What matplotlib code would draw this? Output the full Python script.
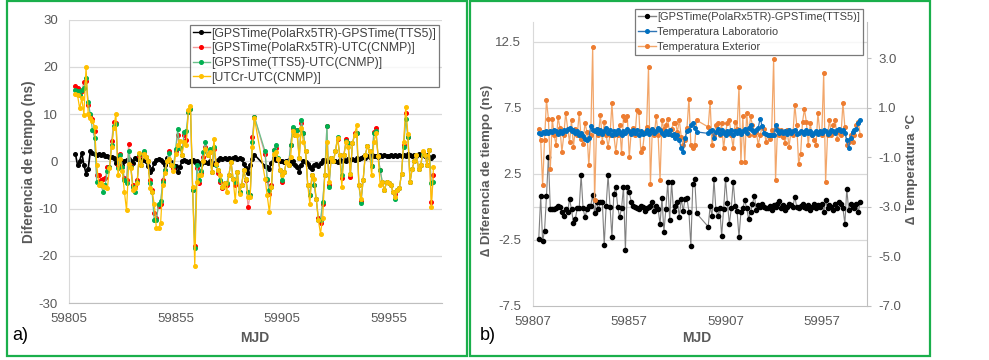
import matplotlib
matplotlib.use("Agg")
import matplotlib.pyplot as plt
from matplotlib.lines import Line2D
from matplotlib.patches import Rectangle

plt.rcParams['font.family'] = ['Liberation Sans', 'DejaVu Sans']
plt.rcParams['axes.unicode_minus'] = False

# ---------------- Panel a data ----------------
mjd_a = list(range(59808, 59893)) + list(range(59897, 59977))

black_a = [1.6, -0.8, 0.0, 1.8, -0.8, -2.6, -1.6, 2.1, 1.7, 1.5,
           1.4, 1.6, 1.4, 1.5, 1.2, 1.1, 0.9, 1.0, 0.7, -0.4,
           0.7, 0.3, -0.8, 0.0, 0.3, 0.5, 0.0, -0.3, 0.7, 0.4,
           0.5, 0.2, 0.3, 0.0, -1.0, -2.3, -1.6, -0.4, 0.3, 0.5,
           0.2, -0.2, -0.8, 0.7, 0.3, -0.2, -0.8, -1.0, -2.3, -1.2,
           0.0, 0.2, 0.0, -0.2, 0.0, 0.2, -0.1, 0.0, -0.3, -0.5,
           0.0, -0.2, -0.4, 0.0, -0.3, -0.5, -0.2, 0.3, 0.6, 0.4,
           0.8, 0.5, 0.7, 0.3, 0.6, 0.9, 0.4, 0.8, 0.5, -0.6,
           -1.5, -2.5, -0.8, 0.5, 1.4,
           -1.0, -1.3, -1.6, -0.3, 0.7, 0.3, 0.5, 0.0, 0.1, -0.2,
           0.0, 0.2, -0.4, 0.0, -0.8, -1.2, -2.3, -0.8, 0.0, -0.2,
           -0.6, -1.2, -1.6, -0.8, -0.5, -1.0, -0.4, 0.2, 0.0, 0.3,
           0.1, 0.2, 0.0, 0.1, -0.1, 0.2, 0.0, 0.3, 0.1, 0.4,
           0.2, 0.5, 0.3, 0.6, 0.4, 0.8, 1.0, 0.8, 1.1, 1.0,
           1.3, 1.1, 1.2, 1.0, 1.3, 1.2, 1.4, 1.1, 1.2, 1.3,
           1.1, 1.4, 1.2, 1.3, 1.1, 1.4, 1.2, 1.5, 1.3, 1.1,
           1.4, 1.2, 1.6, 1.3, 1.5, 1.2, 1.4, 1.0, 0.8, 1.1]

red_a = [16.0, 15.5, 14.5, 14.8, 16.8, 17.0, 12.0, 9.5, 9.0, 6.5,
         -3.0, -3.0, -4.0, -3.8, -3.5, -1.2, -1.2, 4.3, 8.4, 8.2,
         -1.0, 1.5, -1.2, -3.5, -4.0, 3.7, -1.0, -5.0, -5.5, -4.0,
         1.2, -0.8, 1.8, 1.0, 0.0, -4.0, -6.0, -11.0, -12.0, -9.5,
         -9.0, -4.0, -1.8, 0.0, 2.1, -0.8, -1.5, 2.1, 5.6, 2.8,
         1.4, 5.5, 4.5, 10.5, 11.0, -6.0, -18.0, -1.5, -4.7, -2.5,
         1.0, 3.0, 1.4, 2.0, -2.3, 2.5, -0.5, -2.5, -4.4, -5.6,
         -4.7, -5.0, -3.0, -0.1, -3.7, -5.0, -2.3, -6.5, -5.0, -1.9,
         -4.0, -9.7, -7.2, 5.2, 9.3,
         1.5, -4.0, -7.0, -5.0, 2.4, 2.8, 0.5, -1.9, -4.4, -2.3,
         -0.1, -0.8, 3.5, 7.0, 5.6, 6.6, 0.7, 8.2, 5.9, 2.1,
         -5.0, -7.2, -3.0, -5.0, -7.9, -12.0, -13.0, -9.0, -3.0, 7.5,
         -5.0, 0.7, 0.0, 2.1, 4.8, 1.4, -3.5, 1.4, 4.8, 3.8,
         -3.3, 3.8, 6.0, 6.0, -5.0, -8.5, -4.0, 1.4, 3.2, 2.1,
         -1.1, 6.3, 7.0, 1.1, -1.9, -4.4, -6.1, -4.4, -4.7, -5.0,
         -6.5, -7.0, -6.1, -5.7, -2.6, 3.5, 10.2, 5.2, -4.4, -1.6,
         0.0, 1.4, -1.6, -0.8, 2.0, 1.4, -0.8, 2.4, -8.6, -3.0]

green_a = [15.0, 14.9, 14.0, 15.0, 15.5, 17.7, 12.5, 10.0, 6.6, 5.0,
           -4.4, -4.5, -5.0, -6.5, -5.0, -2.0, -1.2, 3.5, 7.5, 8.0,
           -1.5, 1.3, -1.2, -4.0, -4.5, 2.1, -1.3, -5.5, -6.5, -4.3,
           1.5, -0.8, 2.1, 1.0, 0.0, -4.5, -6.5, -12.5, -12.5, -9.0,
           -8.5, -4.3, -1.8, 0.0, 1.8, -0.8, -1.0, 2.5, 6.8, 2.8,
           1.4, 6.2, 6.5, 10.5, 11.1, -6.1, -18.3, -0.8, -4.0, -2.0,
           2.0, 4.0, 1.4, 2.5, -2.3, 3.0, -0.8, -1.9, -4.0, -5.4,
           -4.7, -4.5, -3.0, -0.1, -3.7, -4.4, -2.3, -6.5, -5.0, -1.9,
           -3.7, -6.5, -7.2, 4.0, 9.4,
           2.1, -3.7, -6.0, -5.4, 2.4, 3.5, 0.7, -1.9, -4.0, -2.3,
           -0.1, -0.8, 3.5, 7.3, 5.6, 6.6, 0.7, 8.7, 5.9, 2.1,
           -5.0, -7.2, -3.0, -5.0, -7.9, -12.5, -12.5, -8.6, -3.0, 7.5,
           -5.4, 0.7, 0.0, 2.1, 5.2, 1.4, -3.0, 1.4, 4.3, 3.8,
           -2.6, 3.8, 5.6, 5.9, -5.0, -8.8, -4.0, 1.4, 3.2, 2.1,
           -1.1, 6.0, 6.5, 1.1, -1.9, -4.4, -6.1, -4.4, -4.7, -5.0,
           -6.5, -8.0, -6.1, -5.7, -2.6, 3.0, 9.0, 5.2, -4.4, -1.6,
           0.0, 1.4, -1.6, -0.8, 1.5, 1.4, -0.8, 2.4, -4.5, -4.3]

yellow_a = [14.3, 14.0, 11.2, 13.3, 9.9, 19.9, 10.1, 9.2, 8.5, 7.3,
            -0.7, -5.0, -4.7, -5.2, -5.5, -5.7, -1.5, 3.0, 7.0, 10.1,
            -3.0, 0.5, -2.0, -6.5, -10.4, -0.5, -1.5, -6.0, -5.6, -4.5,
            1.7, -0.8, 1.5, 1.0, 0.0, -5.6, -6.5, -9.0, -14.2, -14.2,
            -13.0, -5.0, -2.5, 0.0, 0.5, -0.8, -2.0, 1.5, 3.5, 4.2,
            1.4, 4.0, 3.5, 10.8, 11.8, -5.5, -22.1, -4.4, -3.0, -3.0,
            0.0, 2.5, 1.4, 2.0, -2.3, 4.8, -0.5, -1.9, -3.0, -5.4,
            -4.7, -6.5, -3.0, -0.1, -3.7, -8.5, -2.3, -7.0, -5.0, -1.9,
            -3.7, -7.5, -7.5, 3.0, 9.1,
            -3.7, -7.2, -10.8, -5.4, 1.5, 2.0, 0.5, -1.9, -3.0, -2.3,
            -0.1, -0.8, 1.0, 6.5, 5.6, 5.5, 0.7, 7.0, 4.0, 2.1,
            -5.0, -9.0, -3.0, -3.7, -7.9, -12.5, -15.3, -12.0, -3.0, 4.0,
            -4.3, 0.7, 0.0, 2.1, 5.0, 1.4, -5.4, 1.4, 4.0, 3.0,
            -2.6, 3.8, 5.6, 7.7, -5.0, -8.0, -4.0, 1.4, 3.2, 2.1,
            -3.0, 4.0, 6.0, 1.1, -5.0, -4.4, -6.1, -4.4, -4.7, -5.0,
            -6.5, -7.5, -6.1, -5.7, -2.6, 4.1, 11.5, 5.8, -4.4, -1.6,
            0.0, 1.4, -1.6, -0.8, 2.1, 1.4, -0.8, 2.4, -9.7, -1.3]

labels_a = ["[GPSTime(PolaRx5TR)-GPSTime(TTS5)]",
            "[GPSTime(PolaRx5TR)-UTC(CNMP)]",
            "[GPSTime(TTS5)-UTC(CNMP)]",
            "[UTCr-UTC(CNMP)]"]
yticks_a = [-30, -20, -10, 0, 10, 20, 30]
xticks_a = [59805, 59855, 59905, 59955]

# ---------------- Panel b data ----------------
mjd_b = list(range(59810, 59893)) + list(range(59898, 59978))

dtime_b = [-2.4, 0.8, -2.6, -1.8, 0.8, 3.8, -0.2, -0.2, -0.2, -0.1,
           0.1, 0.0, -0.4, -0.7, -0.2, -0.4, 0.6, -0.2, -1.2, -0.9,
           -0.1, -0.1, 2.4, -0.1, -0.8, -0.2, 0.1, 0.1, 0.9, -0.5,
           0.4, -0.2, 0.4, 0.4, -2.9, 0.1, 2.4, 0.0, -2.3, 1.0,
           1.5, 0.0, -0.8, -0.1, 1.5, -3.3, 1.5, 1.1, 0.4, 0.1,
           0.0, -0.1, -0.2, 0.1, 0.0, -0.3, -0.1, 0.0, 0.1, 0.4,
           -0.3, 0.1, -0.2, -1.3, 0.7, -1.9, -0.2, 1.85, -1.0, 1.85,
           -0.3, 0.1, 0.4, -0.75, 0.6, -0.3, 0.6, 0.65, -0.4, -3.0,
           1.7, 2.1, -0.5,
           -1.5, 0.05, -0.7, 2.1, -0.2, -0.7, -0.1, -2.2, -0.2, 2.1,
           0.3, -1.3, -0.1, 1.9, 0.1, -0.3, -2.3, -0.4, -0.1, 0.5,
           -0.1, -0.9, -0.4, 0.2, 0.85, -0.25, 0.13, 0.0, 0.2, 0.0,
           -0.12, -0.12, 0.1, -0.25, 0.13, 0.0, 0.25, 0.43, -0.12, 0.13,
           -0.25, 0.0, 0.25, 0.13, 0.0, 0.76, 0.0, -0.12, 0.1, 0.25,
           0.0, -0.12, 0.13, -0.25, 0.0, 0.25, -0.12, 0.13, 0.0, 0.25,
           -0.38, 0.5, -0.12, 0.13, 0.0, -0.25, 0.25, -0.12, 0.38, 0.25,
           -0.12, -1.27, 1.34, -0.25, 0.25, 0.0, -0.12, 0.25, -0.38, 0.38]

temp_lab_b = [0.0, -0.05, 0.02, -0.03, 0.05, 0.0, 0.08, 0.03, 0.1, 0.05,
              -0.05, 0.08, 0.0, 0.1, 0.05, 0.15, 0.2, 0.08, 0.12, 0.0,
              0.05, -0.1, 0.0, -0.15, -0.25, -0.3, -0.2, 0.25, 0.1, 0.05,
              0.15, 0.0, 0.1, -0.05, 0.05, 0.2, 0.0, 0.1, -0.1, 0.05,
              -0.05, 0.1, 0.0, -0.1, 0.08, 0.0, 0.15, 0.05, -0.05, 0.1,
              0.0, 0.12, -0.1, 0.05, -0.05, 0.0, 0.1, -0.05, 0.05, 0.15,
              0.0, 0.08, 0.2, 0.1, 0.0, -0.1, 0.05, -0.05, 0.1, -0.1,
              -0.05, -0.2, -0.1, -0.3, -0.64, -0.78, -0.2, 0.05, 0.1, 0.3,
              0.4, 0.2, 0.03,
              -0.03, 0.05, 0.1, -0.2, 0.03, 0.15, -0.05, 0.1, 0.0, -0.1,
              0.08, 0.0, 0.12, -0.1, 0.05, 0.0, 0.1, -0.05, 0.05, 0.15,
              0.0, 0.2, 0.3, 0.1, 0.03, 0.1, 0.2, 0.57, 0.27, 0.0,
              -0.05, -0.1, -0.1, -0.1, -0.1, 0.3, 0.1, 0.0, 0.08, 0.0,
              0.05, -0.05, 0.1, 0.0, 0.05, 0.1, -0.05, 0.0, 0.08, 0.02,
              -0.05, 0.1, 0.0, 0.05, -0.1, 0.0, 0.08, -0.05, 0.05, 0.0,
              0.1, 0.05, -0.05, 0.0, 0.12, 0.08, 0.0, 0.1, 0.15, 0.05,
              0.1, 0.0, -0.3, -0.64, -0.2, 0.03, 0.1, 0.16, 0.37, 0.5]

temp_ext_b = [0.16, -0.31, -2.12, -0.31, 1.31, 0.57, -1.45, 0.57, -0.1, -0.5,
              0.63, 0.2, -0.78, -0.1, 0.81, 0.16, -0.38, 0.5, -0.57, 0.16,
              -0.1, 0.81, -0.24, -0.44, 0.4, 0.03, -1.32, -0.1, 3.46, -2.73,
              0.16, -0.1, 0.73, -0.38, 0.44, -0.1, -0.57, -0.1, 1.18, -0.1,
              -0.78, -0.1, 0.3, -0.84, 0.66, 0.5, 0.66, -1.0, 0.03, 0.2,
              -0.1, 0.9, 0.84, -0.78, -0.64, 0.03, 0.23, 2.65, -2.06, 0.16,
              -0.1, 0.66, -0.1, -1.92, 0.5, 0.16, 0.3, 0.57, -0.04, 0.16,
              0.37, 0.4, 0.03, 0.5, -0.17, -0.5, -0.3, 0.2, 1.37, -0.5,
              -0.64, -0.5, 0.5,
              0.23, 1.24, -0.5, -0.1, 0.3, 0.4, -0.1, 0.37, -0.64, 0.03,
              0.37, 0.5, -0.1, -0.64, 0.44, 0.16, 1.84, -1.2, 0.66, -1.2,
              0.81, -0.1, 0.66, 0.3, -0.1, 0.03, -0.5, -0.1, 0.23, 0.16,
              -0.37, -0.1, -0.24, 0.1, 2.96, -1.92, 0.16, -0.1, 0.1, -0.17,
              -0.4, 0.1, -0.57, 0.03, -0.1, 1.13, 0.3, -1.27, -0.87, 0.43,
              0.95, 0.43, -0.5, 0.37, -0.1, -0.3, -0.5, 0.78, 0.03, -0.1,
              2.4, -2.0, -0.1, 0.5, -0.1, 0.3, 0.5, -0.24, 0.03, -0.1,
              1.2, 0.23, -0.5, -0.37, -0.1, -0.37, -0.1, 0.3, 0.43, -0.1]

labels_b = ["[GPSTime(PolaRx5TR)-GPSTime(TTS5)]",
            "Temperatura Laboratorio",
            "Temperatura Exterior"]
yticks_b_left = [-7.5, -2.5, 2.5, 7.5, 12.5]
yticks_b_right = [-7.0, -5.0, -3.0, -1.0, 1.0, 3.0]
xticks_b = [59807, 59857, 59907, 59957]

# ---------------- Figure ----------------
W, H = 989, 360
fig = plt.figure(figsize=(W / 100, H / 100), dpi=100)


def fx(px):
    return px / W


def fy(py):
    return 1 - py / H


TICK_C = '#595959'
GRID_C = '#d9d9d9'
AXIS_C = '#bfbfbf'
GREEN_BORDER = '#1aaf4b'

# green frames around the panels
for (x0, y0, x1, y1) in [(7, 1, 467, 356), (470, 1, 930, 356)]:
    fig.patches.append(Rectangle((fx(x0), fy(y1)), fx(x1) - fx(x0), fy(y0) - fy(y1),
                                 transform=fig.transFigure, fill=False,
                                 edgecolor=GREEN_BORDER, linewidth=1.6, zorder=0))

# ---------------- Panel a ----------------
axa = fig.add_axes([fx(69), fy(303), fx(442) - fx(69), fy(19.6) - fy(303)])
axa.set_xlim(59805, 59980)
axa.set_ylim(-30, 30)
axa.set_yticks(yticks_a)
axa.set_xticks(xticks_a)
axa.set_xticklabels([str(v) for v in xticks_a])
axa.yaxis.grid(True, color=GRID_C, linewidth=0.9)
axa.set_axisbelow(True)
for s in ['top', 'right']:
    axa.spines[s].set_visible(False)
axa.spines['left'].set_color(GRID_C)
axa.spines['bottom'].set_color(AXIS_C)
axa.tick_params(axis='both', length=0, labelsize=9.5, labelcolor=TICK_C)
axa.tick_params(axis='y', pad=8)
axa.tick_params(axis='x', pad=7)

series_a = [
    (black_a, '#000000', '#000000'),
    (red_a, '#f09a9a', '#ff0000'),
    (green_a, '#6cc08a', '#00b050'),
    (yellow_a, '#ffc000', '#ffc000'),
]
handles_a = []
for i, (vals, lc, mc) in enumerate(series_a):
    axa.plot(mjd_a, vals, color=lc, linewidth=0.9 if i else 1.2, marker='o',
             markersize=2.6, markerfacecolor=mc, markeredgecolor=mc, zorder=3 + i)
    handles_a.append(Line2D([], [], color=lc, linewidth=1.0, marker='o', markersize=2.6,
                            markerfacecolor=mc, markeredgecolor=mc))

leg_a = axa.legend(handles_a, labels_a, loc='upper left',
                   bbox_to_anchor=(fx(189.5), fy(24.5)), bbox_transform=fig.transFigure,
                   borderaxespad=0, fontsize=8.8, frameon=True, fancybox=False,
                   handlelength=1.4, handletextpad=0.1, labelspacing=0.22,
                   borderpad=0.25, markerscale=1.0)
leg_a.get_frame().set_edgecolor('#595959')
leg_a.get_frame().set_linewidth(0.9)
for t in leg_a.get_texts():
    t.set_color('#404040')

fig.text(fx(29), fy(162), 'Diferencia de tiempo (ns)', rotation=90, ha='center', va='center',
         fontsize=9.8, fontweight='bold', color=TICK_C)
fig.text(fx(255), fy(338), 'MJD', ha='center', va='center', fontsize=10,
         fontweight='bold', color=TICK_C)
fig.text(fx(20), fy(336), 'a)', ha='center', va='center', fontsize=13, color='#000000')

# ---------------- Panel b ----------------
axb = fig.add_axes([fx(533), fy(306), fx(867) - fx(533), fy(21.7) - fy(306)])
axb.set_xlim(59807, 59980.5)
axb.set_ylim(-7.5, 14.0)
axb.set_yticks(yticks_b_left)
axb.set_yticklabels([f'{v:.1f}' for v in yticks_b_left])
axb.set_xticks(xticks_b)
axb.set_xticklabels([str(v) for v in xticks_b])
for gv in [12.5, 7.5, 2.5, 0.0, -2.5]:
    axb.axhline(gv, color=GRID_C, linewidth=0.9, zorder=0)
for s in ['top', 'right']:
    axb.spines[s].set_visible(False)
axb.spines['left'].set_color(GRID_C)
axb.spines['bottom'].set_color(AXIS_C)
axb.tick_params(axis='both', length=0, labelsize=9.5, labelcolor=TICK_C)
axb.tick_params(axis='y', pad=8.5)
axb.tick_params(axis='x', pad=7)

axb.plot(mjd_b, dtime_b, color='#808080', linewidth=0.8, marker='o', markersize=3.0,
         markerfacecolor='#000000', markeredgecolor='#000000', zorder=3)

axr = axb.twinx()
axr.set_ylim(-7.0, 4.48)
axr.set_yticks(yticks_b_right)
axr.set_yticklabels([f'{v:.1f}' for v in yticks_b_right])
for s in ['top', 'left', 'bottom']:
    axr.spines[s].set_visible(False)
axr.spines['right'].set_color(AXIS_C)
axr.tick_params(axis='y', length=3, color=AXIS_C, labelsize=9.5, labelcolor=TICK_C, pad=5)

axr.plot(mjd_b, temp_ext_b, color='#f2a66a', linewidth=0.9, marker='o', markersize=2.6,
         markerfacecolor='#ed7d31', markeredgecolor='#ed7d31', zorder=3)
axr.plot(mjd_b, temp_lab_b, color='#2e75b6', linewidth=0.9, marker='o', markersize=2.6,
         markerfacecolor='#0070c0', markeredgecolor='#0070c0', zorder=4)

handles_b = [
    Line2D([], [], color='#808080', linewidth=1.0, marker='o', markersize=2.8,
           markerfacecolor='#000000', markeredgecolor='#000000'),
    Line2D([], [], color='#2e75b6', linewidth=1.0, marker='o', markersize=2.6,
           markerfacecolor='#0070c0', markeredgecolor='#0070c0'),
    Line2D([], [], color='#f2a66a', linewidth=1.0, marker='o', markersize=2.6,
           markerfacecolor='#ed7d31', markeredgecolor='#ed7d31'),
]
leg_b = axr.legend(handles_b, labels_b, loc='upper left',
                   bbox_to_anchor=(fx(635), fy(9)), bbox_transform=fig.transFigure,
                   borderaxespad=0, fontsize=7.9, frameon=True, fancybox=False,
                   handlelength=1.6, handletextpad=0.1, labelspacing=0.42,
                   borderpad=0.3)
leg_b.get_frame().set_edgecolor('#595959')
leg_b.get_frame().set_linewidth(0.9)
for t in leg_b.get_texts():
    t.set_color('#404040')

fig.text(fx(487), fy(170), '\u2206 Diferencia de tiempo (ns)', rotation=90, ha='center',
         va='center', fontsize=9.6, fontweight='bold', color=TICK_C)
fig.text(fx(912), fy(169), '\u2206 Temperatura \u00b0C', rotation=90, ha='center',
         va='center', fontsize=9.6, fontweight='bold', color=TICK_C)
fig.text(fx(697), fy(338), 'MJD', ha='center', va='center', fontsize=10,
         fontweight='bold', color=TICK_C)
fig.text(fx(488), fy(336), 'b)', ha='center', va='center', fontsize=13, color='#000000')

fig.savefig('out.png', dpi=100)
